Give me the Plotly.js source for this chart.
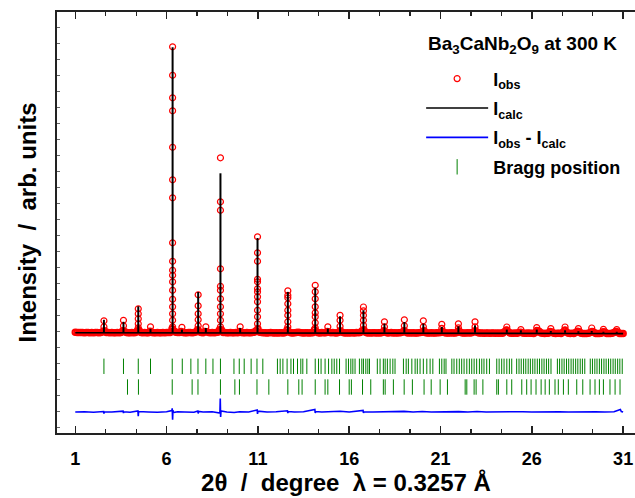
<!DOCTYPE html>
<html><head><meta charset="utf-8">
<script src="https://cdn.plot.ly/plotly-3.0.1.min.js"></script>
<style>html,body{margin:0;padding:0;background:#fff}</style>
</head><body><div id="chart" style="width:635px;height:498px"></div>
<script>
// ---- observed intensity on the 2theta grid (1.0 .. 31.0, step 0.1), arb. units
const gridStart = 1.0, gridStep = 0.1;
const obsBase = [
 0.5,0.3,0.4,0.2,0.3,0.1,0.3,0.2,0.1,0.2,
 0.1,0.3,0.2,0.1,0.2,1.0,2.0,0.4,0.2,0.1,
 0.2,0.1,0.0,0.2,0.1,0.3,2.0,1.2,0.2,0.1,
 0.0,0.2,0.1,0.3,2.0,2.2,0.3,0.1,0.2,0.0,
 0.1,1.5,0.3,0.1,0.0,0.2,0.1,0.0,0.2,0.1,
 0.3,0.2,0.4,4.0,2.0,0.5,0.3,0.2,1.2,0.2,
 0.1,0.0,0.2,0.3,0.1,0.4,0.8,3.0,1.0,0.2,
 0.1,1.2,1.0,0.2,0.0,0.3,0.1,0.2,0.6,3.0,
 3.0,0.4,0.2,0.1,0.0,0.2,0.1,0.0,0.2,0.1,
 1.2,0.2,0.0,0.1,0.2,0.0,0.1,0.3,0.6,2.0,
 4.0,0.6,0.2,0.0,0.1,-0.1,0.0,0.2,0.0,-0.1,
 0.0,-0.2,0.1,0.0,-0.1,0.4,3.0,1.0,0.1,-0.1,
 0.0,0.2,0.5,0.2,0.0,-0.1,0.1,0.0,-0.2,0.0,
 0.1,3.0,1.0,0.0,-0.1,0.2,0.0,0.1,1.2,0.5,
 0.0,0.2,0.0,-0.2,0.3,2.0,0.8,0.0,-0.1,0.0,
 -0.2,0.1,0.0,-0.1,0.2,0.0,0.3,2.0,3.0,0.6,
 -0.1,0.0,-0.2,0.1,0.0,-0.2,0.1,-0.1,0.3,2.0,
 0.5,-0.1,0.0,0.2,-0.2,0.0,-0.1,0.1,0.0,0.6,
 2.0,0.8,-0.1,0.0,-0.2,0.1,-0.1,-0.2,0.0,0.2,
 0.6,2.0,0.0,-0.2,-0.1,0.1,-0.3,-0.1,0.0,0.1,
 0.3,1.5,0.2,-0.2,-0.3,-0.1,0.0,-0.2,-0.3,0.4,
 2.0,0.5,-0.2,-0.3,-0.1,0.0,-0.2,0.1,0.8,2.0,
 0.6,-0.2,-0.3,-0.1,-0.4,-0.2,-0.3,-0.5,-0.2,-0.3,
 -0.4,-0.3,-0.5,-0.2,-0.4,1.0,2.5,1.2,-0.3,-0.4,
 -0.5,-0.3,-0.4,0.3,0.6,-0.2,-0.5,-0.4,-0.3,-0.5,
 -0.4,-0.6,0.3,2.0,1.5,-0.3,-0.5,-0.6,-0.4,-0.5,
 1.2,0.8,-0.4,-0.6,-0.5,-0.4,-0.6,0.6,2.2,0.8,
 -0.5,-0.6,-0.4,-0.6,0.3,1.5,1.0,-0.5,-0.6,-0.7,
 -0.6,-0.5,0.4,1.4,0.6,-0.6,-0.7,-0.6,-0.5,1.0,
 0.8,-0.6,-0.7,-0.6,-0.5,0.4,1.2,0.8,-0.7,-0.8,
 -0.8];

// ---- reflections: position, calculated peak top, observed points on the peak
const peakPos = [2.57,3.64,4.45,5.12,6.33,6.84,7.73,8.15,8.95,10.03,10.98,12.64,14.14,14.83,15.50,16.78,17.93,19.02,20.06,21.07,21.98,22.89,24.63,25.40,26.27,27.04,27.82,28.55,29.28,29.92,30.65];
const calcTop = [13,11,26.5,4,285.5,3.2,40.8,4.8,159.5,4.8,94.8,40.8,45.2,4.2,16.5,22.5,9.2,10.8,9.2,5.8,6.5,7.5,3.2,2.5,3.2,1.8,2.5,1.5,1.8,1.0,1.0];
const peakObs = [
 [12,6],[12.5,7],[24,19,14,9,5],[6],
 [286,257.5,235,222,185.5,153,135,90,71.5,62.5,57.5,51,42.5,33.5,26,19,12.5,6],
 [5.5],[38,27,19,13,7],[6],
 [175,131,122.5,64,46.5,42.5,34,26,19,12.5,6],
 [6],[96,80,71.5,53.5,51,44,41,36,31,22.5,16,9],
 [42,37.5,35,29,22.5,17.5,11,6],[47.5,41,34,26,20,16,10,5],
 [6],[17.5,12.5,6.5],[25.8,22,17.5,12.5,7.5],[11,6],[13,7],[12,6],[8.5,4.5],[9,5],[11,6],
 [5.8,3],[3.2],[5.2,2.5],[4.2],[5.8,3],[4.2],[4.8],[3.5],[3.2]];

// ---- calculated background
const bgX = [1,3,5,7,9,11,13,15,17,19,21,23,25,27,29,31];
const bgY = [0,0,0,0,-0.1,-0.2,-0.2,-0.3,-0.3,-0.4,-0.4,-0.5,-0.6,-0.7,-0.7,-0.8];

// ---- difference Iobs - Icalc
const diffX = [1.0,1.5,2.0,2.55,2.57,2.6,3.0,3.62,3.64,3.66,4.0,4.43,4.45,4.47,5.0,5.5,6.0,6.29,6.31,6.33,6.35,6.37,6.6,7.0,7.5,7.71,7.73,7.75,8.0,8.5,8.92,8.94,8.96,8.98,9.3,9.7,10.0,10.5,10.96,10.98,11.0,11.5,12.0,12.62,12.64,12.66,13.0,13.5,14.12,14.14,14.16,14.5,15.0,15.5,16.0,16.76,16.78,16.8,17.3,18.0,18.5,19.0,19.5,20.0,20.5,21.0,21.5,22.0,22.5,23.0,23.5,24.0,24.5,25.0,25.5,26.0,26.5,27.0,27.5,28.0,28.5,29.0,29.5,30.0,30.5,30.85,30.9,31.0];
const diffY = [0,0.3,-0.2,0.5,-1.5,0.3,0,0.8,-1,0.2,-0.3,1,-4.3,0.5,0,-0.3,0.2,1.5,3.7,-7.6,2,-0.5,0.3,0,-0.2,1,-1.5,0.5,0,0.2,-1,13.4,-5,1,0,-0.5,0.3,0,2,-2,0.8,0,0.2,1.2,-1,0.5,0,0.2,2.5,-1,0.5,0,0.2,0.8,0,1.5,-1,0.3,0,0.3,0,0.6,0,0.5,0,0.3,0,0.4,0,0.5,0,0.2,0.4,0,0.3,0,0.2,0,0.3,0,0.2,0,0.3,0,0.2,2.5,0.5,0];

// ---- Bragg positions (two rows)
const bragg1 = [2.57,3.64,4.45,5.12,6.31,6.86,7.33,7.72,8.15,8.54,8.95,9.69,9.98,10.25,10.63,10.95,11.27,12.07,12.22,12.37,12.60,12.81,12.95,13.17,13.35,13.46,13.68,14.14,14.32,14.46,14.68,14.87,15.05,15.18,15.32,15.47,15.83,15.96,16.09,16.20,16.32,16.56,16.69,16.78,16.91,17.02,17.11,17.54,17.69,17.87,17.97,18.09,18.24,18.39,18.51,18.97,19.12,19.24,19.43,19.61,19.73,19.88,20.06,20.25,20.43,20.58,20.94,21.07,21.20,21.30,21.62,21.74,21.89,22.03,22.16,22.29,22.44,22.58,22.71,22.84,22.98,23.13,23.26,23.38,23.53,23.68,24.08,24.21,24.35,24.48,24.63,24.77,24.90,25.17,25.30,25.42,25.55,25.67,25.80,25.92,26.05,26.17,26.30,26.42,26.55,26.67,26.80,26.92,27.05,27.40,27.52,27.65,27.77,27.90,28.02,28.15,28.27,28.40,28.52,28.65,28.77,28.90,29.20,29.32,29.45,29.57,29.70,29.82,29.95,30.07,30.20,30.32,30.45,30.57,30.70,30.82,30.95];
const bragg2 = [3.86,4.46,6.31,7.40,7.72,8.95,9.74,9.99,10.95,11.60,12.64,13.24,13.42,14.14,14.68,14.83,15.47,16.00,16.12,16.73,17.18,17.87,17.97,18.42,19.01,19.46,20.10,20.49,20.98,21.38,22.35,22.44,22.84,22.95,23.32,24.08,24.17,24.63,24.90,25.45,25.72,25.96,26.23,26.51,26.73,26.96,27.27,27.45,27.73,28.00,28.46,28.79,29.19,29.46,29.70,29.92,30.28,30.56,30.83];

// ---- plot offsets (styling)
const diffOffset = -79.2, row1Y = -33.5, row2Y = -54.2;

const gridTT = obsBase.map((_, i) => +(gridStart + i * gridStep).toFixed(2));
const pkX = [], pkY = [];
peakPos.forEach((p, k) => peakObs[k].forEach(v => { pkX.push(p); pkY.push(v); }));

const spikeX = [], spikeY = [];
peakPos.forEach((p, k) => { spikeX.push(p, p, null); spikeY.push(0, calcTop[k], null); });

const FONT = 'Liberation Sans, Arial, sans-serif';

const traces = [
 {x: gridTT, y: obsBase, type: 'scatter', mode: 'markers', showlegend: false, legendgroup: 'obs',
  marker: {symbol: 'circle-open', size: 5.5, color: '#ff0000', line: {width: 2, color: '#ff0000'}}},
 {x: pkX, y: pkY, type: 'scatter', mode: 'markers', name: 'I<sub>obs</sub>', legendgroup: 'obs', legendrank: 1,
  marker: {symbol: 'circle-open', size: 6, color: '#ff0000', line: {width: 1.2, color: '#ff0000'}}},
 {x: bgX, y: bgY, type: 'scatter', mode: 'lines', name: 'I<sub>calc</sub>', legendgroup: 'calc', legendrank: 2,
  line: {color: '#000000', width: 1.6}},
 {x: spikeX, y: spikeY, type: 'scatter', mode: 'lines', showlegend: false, legendgroup: 'calc',
  line: {color: '#000000', width: 2}},
 {x: diffX, y: diffY.map(v => v + diffOffset), type: 'scatter', mode: 'lines', name: 'I<sub>obs</sub> - I<sub>calc</sub>', legendgroup: 'diff', legendrank: 3,
  line: {color: '#0000ff', width: 1.6}},
 {x: bragg1, y: bragg1.map(() => row1Y), type: 'scatter', mode: 'markers', name: 'Bragg position', legendgroup: 'bragg', legendrank: 4,
  marker: {symbol: 'line-ns-open', size: 11, color: '#008000', line: {width: 1, color: '#008000'}}},
 {x: bragg2, y: bragg2.map(() => row2Y), type: 'scatter', mode: 'markers', showlegend: false, legendgroup: 'bragg',
  marker: {symbol: 'line-ns-open', size: 11, color: '#008000', line: {width: 1, color: '#008000'}}}
];

const layout = {
 width: 635, height: 498,
 margin: {l: 57, r: 0, t: 12, b: 65},
 paper_bgcolor: '#ffffff', plot_bgcolor: '#ffffff',
 hovermode: false,
 font: {family: FONT, color: '#000000'},
 xaxis: {
  range: [0, 31.65], tick0: 1, dtick: 5, ticks: 'inside', ticklen: 7, tickwidth: 1.5, tickcolor: '#222',
  showline: true, linecolor: '#222', linewidth: 2, mirror: 'ticks', showgrid: false, zeroline: false,
  minor: {tick0: 1, dtick: 5/3, ticks: 'inside', ticklen: 4, tickwidth: 1.2, tickcolor: '#222', showgrid: false},
  tickfont: {family: FONT, size: 18, weight: 'bold'}, ticklabelstandoff: 8,
  title: {text: '2\u03b8\u00a0\u00a0/\u00a0\u00a0degree\u00a0\u00a0\u03bb = 0.3257 \u00c5', font: {family: FONT, size: 24, weight: 'bold'}, standoff: 6},
  automargin: false
 },
 yaxis: {
  range: [-100.2, 320.8], tick0: 1.2, dtick: 16, ticks: 'inside', ticklen: 3, tickwidth: 1, tickcolor: '#666',
  showticklabels: false, showline: true, linecolor: '#222', linewidth: 2, mirror: false,
  showgrid: false, zeroline: false,
  title: {text: 'Intensity\u00a0\u00a0/\u00a0\u00a0arb. units', font: {family: FONT, size: 24, weight: 'bold'}, standoff: 12},
  automargin: false
 },
 showlegend: true,
 legend: {x: 0.63, y: 0.885, xanchor: 'left', yanchor: 'top', bgcolor: 'rgba(0,0,0,0)', traceorder: 'grouped',
  font: {family: FONT, size: 18, weight: 'bold'}, itemwidth: 62, tracegroupgap: 3},
 annotations: [{
  xref: 'paper', yref: 'paper', x: 0.805, y: 0.921, xanchor: 'center', yanchor: 'middle', showarrow: false,
  text: 'Ba<sub>3</sub>CaNb<sub>2</sub>O<sub>9</sub> at 300 K', font: {family: FONT, size: 19, weight: 'bold'}
 }]
};

Plotly.newPlot('chart', traces, layout, {displayModeBar: false, staticPlot: true});
</script></body></html>
